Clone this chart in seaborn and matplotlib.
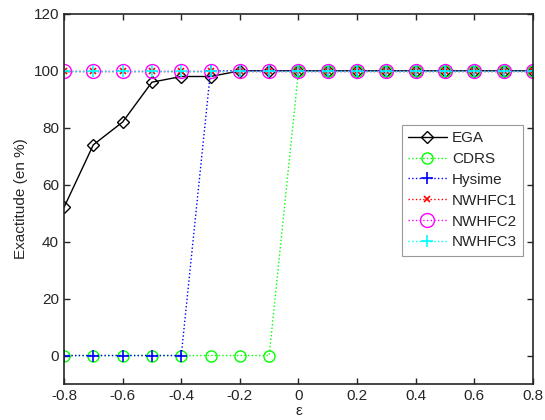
import numpy as np
import pandas as pd
import matplotlib
matplotlib.use("Agg")
import matplotlib.pyplot as plt
import seaborn as sns

eps = [-0.8, -0.7, -0.6, -0.5, -0.4, -0.3, -0.2, -0.1, 0.0, 0.1, 0.2, 0.3, 0.4, 0.5, 0.6, 0.7, 0.8]
ega = [52, 74, 82, 96, 98, 98, 100, 100, 100, 100, 100, 100, 100, 100, 100, 100, 100]
cdrs = [0, 0, 0, 0, 0, 0, 0, 0, 100, 100, 100, 100, 100, 100, 100, 100, 100]
hysime = [0, 0, 0, 0, 0, 100, 100, 100, 100, 100, 100, 100, 100, 100, 100, 100, 100]
nwhfc1 = [100] * 17
nwhfc2 = [100] * 17
nwhfc3 = [100] * 17

series_names = ["EGA", "CDRS", "Hysime", "NWHFC1", "NWHFC2", "NWHFC3"]
series_vals = [ega, cdrs, hysime, nwhfc1, nwhfc2, nwhfc3]

sns.set_style("ticks")
plt.rcParams['font.family'] = ['Liberation Sans', 'DejaVu Sans']

fig = plt.figure(figsize=(5.45, 4.2), dpi=100)
ax = fig.add_axes([0.1174, 0.0857, 0.978 - 0.1174, 0.967 - 0.0857])

styles = {
    "EGA": dict(color="black", marker="D", ls="-", ms=6.5, mfc="none", mew=1.0),
    "CDRS": dict(color="#00ff00", marker="o", ls=":", ms=8, mfc="none", mew=1.0),
    "Hysime": dict(color="blue", marker="+", ls=":", ms=8, mfc="none", mew=1.2),
    "NWHFC1": dict(color="red", marker="x", ls=":", ms=5, mfc="none", mew=1.2),
    "NWHFC2": dict(color="magenta", marker="o", ls=":", ms=10, mfc="none", mew=1.0),
    "NWHFC3": dict(color="cyan", marker="+", ls=":", ms=8, mfc="none", mew=1.2),
}

for name, vals in zip(series_names, series_vals):
    st = styles[name]
    df = pd.DataFrame({"eps": eps, "val": vals})
    sns.lineplot(data=df, x="eps", y="val", ax=ax, color=st["color"], marker=st["marker"],
                 linestyle=st["ls"], markersize=st["ms"], markerfacecolor=st["mfc"],
                 markeredgecolor=st["color"], markeredgewidth=st["mew"], lw=1.0, label=name)

ax.set_xlim(-0.8, 0.8)
ax.set_ylim(-10, 120)
ax.set_xticks(np.arange(-0.8, 0.81, 0.2))
ax.set_xticklabels(["-0.8", "-0.6", "-0.4", "-0.2", "0", "0.2", "0.4", "0.6", "0.8"])
ax.set_yticks([0, 20, 40, 60, 80, 100, 120])
ax.tick_params(direction="in", top=True, right=True, labelsize=11, length=4, width=1)
for s in ax.spines.values():
    s.set_linewidth(1.2)
    s.set_visible(True)
ax.set_xlabel("ε", fontsize=11, labelpad=1)
ax.set_ylabel("Exactitude (en %)", fontsize=11)

leg = ax.legend(loc="upper right", bbox_to_anchor=(0.979, 0.70), borderaxespad=0,
                fontsize=11, frameon=True,
                fancybox=False, edgecolor="#808080", handlelength=2.6, borderpad=0.4,
                labelspacing=0.45, handletextpad=0.3)
leg.get_frame().set_linewidth(0.8)

fig.savefig("out.png", dpi=100)
